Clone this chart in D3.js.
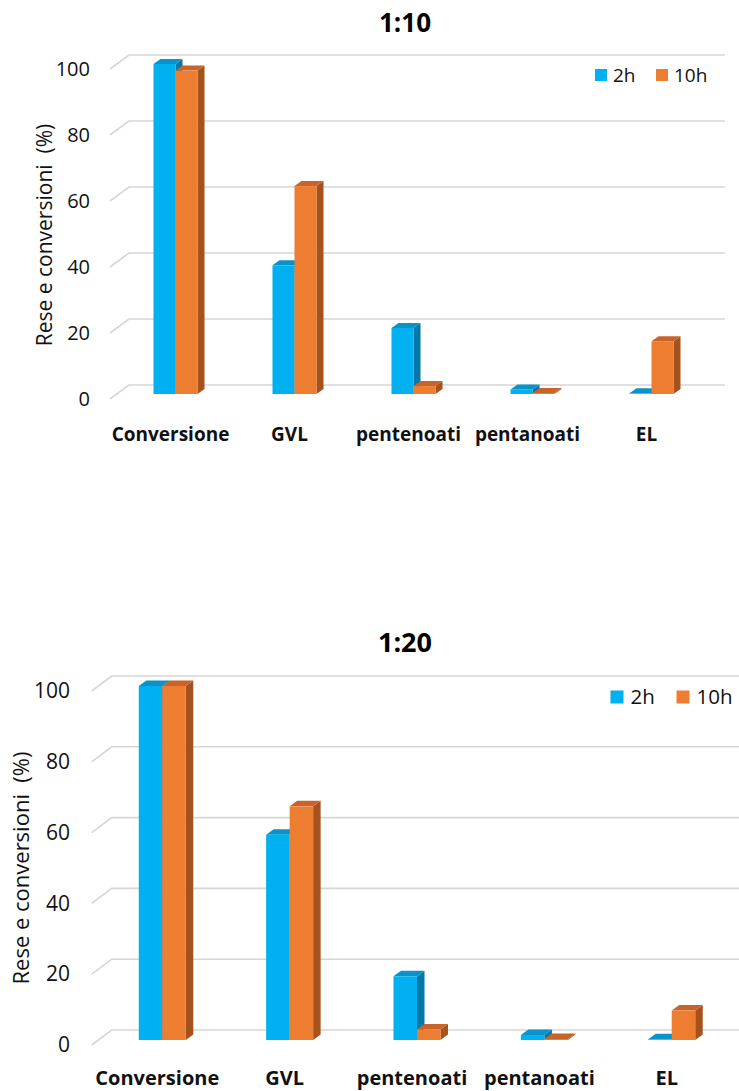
<!DOCTYPE html>
<html>
<head>
<meta charset="utf-8">
<script src="https://cdn.jsdelivr.net/npm/d3@7"></script>
<style>
  html, body { margin: 0; padding: 0; background: #ffffff; overflow: hidden; }
  svg { display: block; font-family: "Open Sans", "DejaVu Sans", sans-serif; }
</style>
</head>
<body>
<svg id="chart" width="739" height="1091"></svg>
<script>
// Categories, series and tick values
const categories = ["Conversione", "GVL", "pentenoati", "pentanoati", "EL"];
const seriesNames = ["2h", "10h"];
const yTicks = [0, 20, 40, 60, 80, 100];
const yAxisTitle = "Rese e conversioni  (%)";

// Yields and conversions (%) for ratio 1:10
const title110 = "1:10";
const ratio110_2h = [100, 39, 20, 1.4, 0.2];
const ratio110_10h = [98, 63, 2.4, 0.3, 16];

// Yields and conversions (%) for ratio 1:20
const title120 = "1:20";
const ratio120_2h = [100, 58, 18, 1.4, 0.2];
const ratio120_10h = [100, 66, 3, 0.3, 8.3];

// Colours for front, top and side faces of each series
const palette = {
  "2h":  { front: "#00b0f0", top: "#0a93c8", side: "#0079a8" },
  "10h": { front: "#ed7d31", top: "#c8632a", side: "#a5521c" }
};

const svg = d3.select("#chart");

// Layout for each of the two panels
const panels = [
  {
    title: title110, values: [ratio110_2h, ratio110_10h],
    titleY: 32,
    wallLeft: 129, wallRight: 725, wallZero: 385, wallTop: 55,
    depthX: 19, depthY: 14,          // offset from axis front edge to back wall
    barZero: 394, barW: 22, barDx: 7, barDy: 5,
    bandRange: [116, 711],
    labelX: 90,
    xLabelY: 440.5, xLabelSize: 19,
    tickSize: 20, titleSize: 26, axisTitleSize: 21, axisTitleX: 52,
    legend: { y: 69, sq: 12, items: [595, 656], textDx: 18, size: 19 }
  },
  {
    title: title120, values: [ratio120_2h, ratio120_10h],
    titleY: 652,
    wallLeft: 111.7, wallRight: 739, wallZero: 1030, wallTop: 676,
    depthX: 20, depthY: 15,
    barZero: 1040, barW: 23.5, barDx: 7.5, barDy: 5.5,
    bandRange: [98.6, 735.4],
    labelX: 70,
    xLabelY: 1085, xLabelSize: 20,
    tickSize: 21, titleSize: 27, axisTitleSize: 22, axisTitleX: 29,
    legend: { y: 690.5, sq: 13, items: [610.5, 676.5], textDx: 20, size: 20.5 }
  }
];

panels.forEach(p => {
  const g = svg.append("g");
  const span = p.wallZero - p.wallTop;

  // Back wall, bar plane and front-edge scales share the same value range
  const yWall = d3.scaleLinear().domain([0, 100]).range([p.wallZero, p.wallTop]);
  const yBar = d3.scaleLinear().domain([0, 100]).range([p.barZero, p.barZero - span]);
  const yFront = d3.scaleLinear().domain([0, 100])
    .range([p.wallZero + p.depthY, p.wallZero + p.depthY - span]);

  const x = d3.scaleBand().domain(categories).range(p.bandRange);
  const frontX = p.wallLeft - p.depthX;

  // Title
  g.append("text")
    .attr("x", 405).attr("y", p.titleY)
    .attr("text-anchor", "middle")
    .attr("font-size", p.titleSize).attr("font-weight", 700)
    .attr("fill", "#000")
    .text(p.title);

  // Gridlines: slanted segment on the side wall, then across the back wall
  const grid = g.append("g").attr("fill", "none")
    .attr("stroke", "#d6d6d6").attr("stroke-width", 1.6);
  yTicks.forEach(t => {
    grid.append("path")
      .attr("d", `M${frontX},${yFront(t)}L${p.wallLeft},${yWall(t)}L${p.wallRight},${yWall(t)}`);
  });

  // Value axis labels
  const axis = d3.axisLeft(yFront).tickValues(yTicks).tickSize(0).tickPadding(0);
  const ax = g.append("g").attr("transform", `translate(${p.labelX},0)`).call(axis);
  ax.select(".domain").remove();
  ax.selectAll("text")
    .attr("font-family", "'Open Sans', sans-serif")
    .attr("font-size", p.tickSize)
    .attr("fill", "#111");

  // Axis title
  const ty = (p.wallZero + p.wallTop) / 2 + 15;
  g.append("text")
    .attr("transform", `translate(${p.axisTitleX},${ty}) rotate(-90)`)
    .attr("text-anchor", "middle")
    .attr("font-size", p.axisTitleSize)
    .attr("fill", "#111")
    .style("white-space", "pre")
    .text(yAxisTitle);

  // 3D columns: front face, top and right side, drawn left to right
  const bars = g.append("g");
  categories.forEach((c, i) => {
    seriesNames.forEach((s, k) => {
      const v = p.values[k][i];
      const col = palette[s];
      const x0 = x(c) + x.bandwidth() / 2 + (k - 1) * p.barW;
      const x1 = x0 + p.barW;
      const yb = yBar(0), yt = yBar(v);
      const dx = p.barDx, dy = p.barDy;
      bars.append("path")
        .attr("d", `M${x1},${yb}L${x1 + dx},${yb - dy}L${x1 + dx},${yt - dy}L${x1},${yt}Z`)
        .attr("fill", col.side);
      bars.append("path")
        .attr("d", `M${x0},${yt}L${x0 + dx},${yt - dy}L${x1 + dx},${yt - dy}L${x1},${yt}Z`)
        .attr("fill", col.top);
      bars.append("rect")
        .attr("x", x0).attr("y", yt)
        .attr("width", p.barW).attr("height", Math.max(0, yb - yt))
        .attr("fill", col.front);
    });
  });

  // Category labels
  g.append("g").selectAll("text").data(categories).join("text")
    .attr("x", d => x(d) + x.bandwidth() / 2 - 5)
    .attr("y", p.xLabelY)
    .attr("text-anchor", "middle")
    .attr("font-size", p.xLabelSize).attr("font-weight", 700)
    .attr("fill", "#111")
    .text(d => d);

  // Legend
  const lg = g.append("g");
  seriesNames.forEach((s, k) => {
    const lx = p.legend.items[k];
    lg.append("rect")
      .attr("x", lx).attr("y", p.legend.y)
      .attr("width", p.legend.sq).attr("height", p.legend.sq)
      .attr("fill", palette[s].front);
    lg.append("text")
      .attr("x", lx + p.legend.textDx).attr("y", p.legend.y + p.legend.sq + 0.5)
      .attr("font-size", p.legend.size)
      .attr("fill", "#111")
      .text(s);
  });
});
</script>
</body>
</html>
